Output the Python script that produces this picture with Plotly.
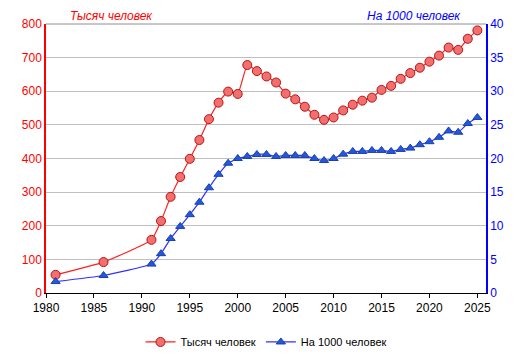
import plotly.graph_objects as go

years = [1981, 1986, 1991, 1992, 1993, 1994, 1995, 1996, 1997, 1998, 1999, 2000,
         2001, 2002, 2003, 2004, 2005, 2006, 2007, 2008, 2009, 2010, 2011, 2012,
         2013, 2014, 2015, 2016, 2017, 2018, 2019, 2020, 2021, 2022, 2023, 2024, 2025]
thousands = [54, 92, 158, 214, 286, 345, 399, 455, 517, 566, 599, 592,
             678, 660, 644, 626, 593, 576, 554, 530, 515, 522, 543, 560,
             572, 581, 604, 616, 637, 654, 670, 688, 706, 730, 723, 756, 781]
per1000 = [1.7, 2.6, 4.3, 5.85, 8.1, 9.9, 11.65, 13.5, 15.65, 17.65, 19.3, 20.0,
           20.3, 20.6, 20.6, 20.3, 20.45, 20.45, 20.45, 20.0, 19.7, 20.0, 20.65, 21.05,
           21.05, 21.2, 21.2, 21.05, 21.35, 21.55, 22.05, 22.5, 23.15, 24.1, 23.9, 25.2, 26.1]

x_ticks = [1980, 1985, 1990, 1995, 2000, 2005, 2010, 2015, 2020, 2025]
left_ticks = [0, 100, 200, 300, 400, 500, 600, 700, 800]
right_ticks = [0, 5, 10, 15, 20, 25, 30, 35, 40]

FONT = "Liberation Sans, Arial, sans-serif"

fig = go.Figure()
fig.add_trace(go.Scatter(
    x=years, y=thousands, name="Тысяч человек", mode="lines+markers",
    line=dict(color="#ff2020", width=1.2, shape="spline", smoothing=0.4),
    marker=dict(symbol="circle", size=9, color="#f07070",
                line=dict(color="#c01010", width=1)),
))
fig.add_trace(go.Scatter(
    x=years, y=per1000, name="На 1000 человек", mode="lines+markers", yaxis="y2",
    line=dict(color="#3030ff", width=1.2, shape="spline", smoothing=0.4),
    marker=dict(symbol="triangle-up", size=8, color="#2358d8",
                line=dict(color="#1a3fb0", width=1)),
))

fig.update_layout(
    width=517, height=352,
    margin=dict(l=38, r=39, t=16, b=67, autoexpand=False),
    paper_bgcolor="white", plot_bgcolor="white",
    font=dict(family=FONT, size=12, color="black"),
    showlegend=True,
    legend=dict(orientation="h", x=0.5, xanchor="center", y=-0.182, yanchor="middle",
                font=dict(size=11, color="black"), itemwidth=30,
                traceorder="normal"),
    xaxis=dict(range=[1980, 2025.9], tickvals=x_ticks, showgrid=False, automargin=False,
               showline=True, linecolor="black", linewidth=1,
               ticks="outside", ticklen=4, tickcolor="black",
               tickfont=dict(size=12, color="black"), zeroline=False, mirror=False),
    yaxis=dict(range=[0, 800], tickvals=left_ticks, showgrid=True, automargin=False,
               gridcolor="#c0c0c0", gridwidth=1,
               showline=True, linecolor="#ff0000", linewidth=1.5,
               ticks="", tickfont=dict(size=12, color="#ff0000"), zeroline=False),
    yaxis2=dict(range=[0, 40], tickvals=right_ticks, overlaying="y", side="right",
                automargin=False,
                showgrid=False, showline=True, linecolor="#0000ff", linewidth=1.5,
                ticks="", tickfont=dict(size=12, color="#0000ff"), zeroline=False),
    shapes=[dict(type="line", xref="paper", yref="paper", x0=0, x1=1, y0=1, y1=1,
                 line=dict(color="#909090", width=1))],
    annotations=[
        dict(text="Тысяч человек", xref="paper", yref="paper", x=0.049, y=1.0,
             xanchor="left", yanchor="middle", yshift=8, showarrow=False,
             font=dict(family=FONT, size=12, color="#ff0000", style="italic")),
        dict(text="На 1000 человек", xref="paper", yref="paper", x=0.948, y=1.0,
             xanchor="right", yanchor="middle", yshift=8, showarrow=False,
             font=dict(family=FONT, size=12, color="#0000ff", style="italic")),
    ],
)

fig.write_html("out.html")
